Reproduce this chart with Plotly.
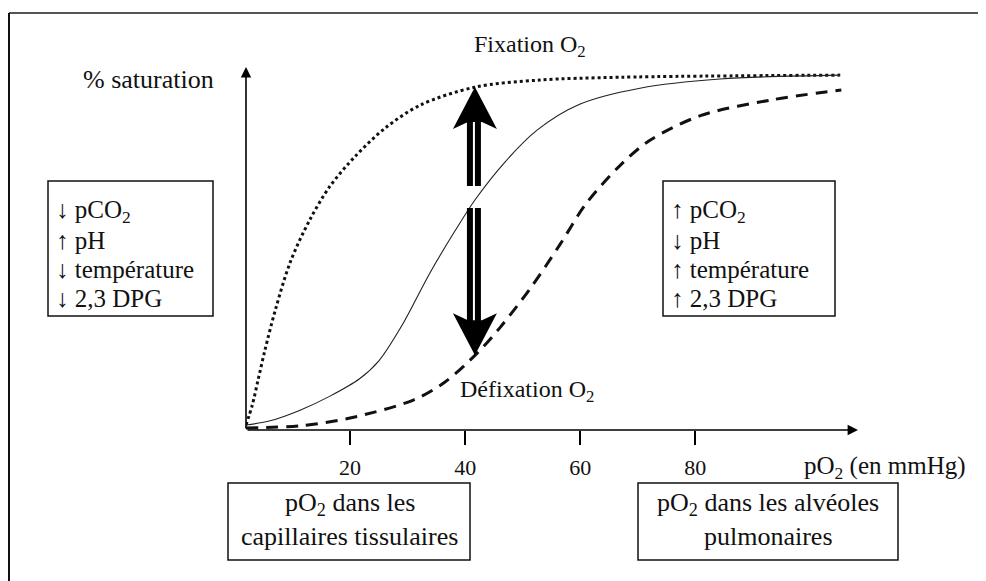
import numpy as np
import plotly.graph_objects as go

# ---------------- data ----------------
po2_left = [1.9, 3.0, 4.0, 5.2, 7.0, 9.6, 13.0, 16.5, 20.9, 26.1, 32.2, 41.7, 53.0, 67.0, 105.2]
sat_left = [0.8, 6.5, 13.6, 22.1, 33.4, 47.0, 59.0, 68.5, 77.0, 85.0, 91.5, 96.6, 98.6, 99.4, 100.0]

po2_mid = [1.9, 6.1, 11.3, 16.5, 21.7, 25.0, 29.0, 33.9, 38.3, 41.7, 47.0, 52.5, 60.0, 70.4, 84.3, 105.2]
sat_mid = [0.8, 2.0, 5.0, 9.0, 14.0, 19.0, 29.0, 44.0, 56.0, 64.6, 75.5, 84.4, 91.8, 96.3, 98.9, 100.0]

po2_right = [1.9, 11.3, 20.0, 31.0, 36.5, 42.1, 46.1, 51.3, 56.5, 61.0, 67.0, 72.2, 80.9, 93.0, 105.4]
sat_right = [0.0, 0.6, 2.8, 7.9, 13.0, 21.2, 28.5, 39.5, 52.0, 63.5, 74.5, 81.6, 88.5, 92.9, 95.8]

x_ticks = [20, 40, 60, 80]
x_tick_labels = ["20", "40", "60", "80"]
arrow_po2 = 41.7

left_lines = ["↓ pCO<sub>2</sub>", "↑ pH", "↓ température", "↓ 2,3 DPG"]
right_lines = ["↑ pCO<sub>2</sub>", "↓ pH", "↑ température", "↑ 2,3 DPG"]

# ---------------- geometry helpers (screen px -> figure) ----------------
OFF = 8                       # default body margin of the page
W, H = 986, 581
L, R, T, B = 246, 858, 67, 430   # plot area in screen px
XR = [1.9, 108.3]
YR = [-0.6, 102.3]


def xp(px):
    return (px - L) / (R - L)


def yp(py):
    return (B - py) / (B - T)


def d2px(x, y):
    px = L + (x - XR[0]) / (XR[1] - XR[0]) * (R - L)
    py = B - (y - YR[0]) / (YR[1] - YR[0]) * (B - T)
    return px, py


FONT = "Liberation Serif, Times New Roman, serif"

fig = go.Figure()
fig.add_trace(go.Scatter(x=po2_left, y=sat_left, mode="lines",
                         line=dict(color="#111", width=3, dash="dot", shape="spline", smoothing=0.9),
                         hoverinfo="skip"))
fig.add_trace(go.Scatter(x=po2_mid, y=sat_mid, mode="lines",
                         line=dict(color="#222", width=1.1, shape="spline", smoothing=0.9),
                         hoverinfo="skip"))
fig.add_trace(go.Scatter(x=po2_right, y=sat_right, mode="lines",
                         line=dict(color="#111", width=3, dash="12px,8px", shape="spline", smoothing=0.9),
                         hoverinfo="skip"))

shapes = []
annotations = []

# outer frame (top and left edges)
shapes.append(dict(type="line", xref="paper", yref="paper", x0=xp(9), x1=xp(990), y0=yp(13), y1=yp(13),
                   line=dict(color="#555", width=2)))
shapes.append(dict(type="line", xref="paper", yref="paper", x0=xp(9), x1=xp(9), y0=yp(13), y1=yp(590),
                   line=dict(color="#111", width=2)))

# axis arrows
annotations.append(dict(x=XR[1], y=YR[0], ax=XR[0], ay=YR[0], xref="x", yref="y", axref="x", ayref="y",
                        text="", showarrow=True, arrowhead=2, arrowsize=1.3, arrowwidth=1.6, arrowcolor="#000"))
annotations.append(dict(x=XR[0], y=YR[1], ax=XR[0], ay=YR[0], xref="x", yref="y", axref="x", ayref="y",
                        text="", showarrow=True, arrowhead=2, arrowsize=1.3, arrowwidth=1.6, arrowcolor="#000"))

# big double arrows
c, top_py = d2px(arrow_po2, float(np.interp(arrow_po2, po2_left, sat_left)))
_, bot_py = d2px(arrow_po2, float(np.interp(arrow_po2, po2_right, sat_right)))
_, mid_py = d2px(arrow_po2, float(np.interp(arrow_po2, po2_mid, sat_mid)))


def path(points):
    return "M " + " L ".join(f"{xp(a):.5f},{yp(b):.5f}" for a, b in points) + " Z"


shapes.append(dict(type="path", xref="paper", yref="paper", fillcolor="#000", line=dict(width=0),
                   path=path([(c, top_py), (c + 22, top_py + 42), (c + 7, top_py + 35),
                              (c - 7, top_py + 35), (c - 22, top_py + 42)])))
shapes.append(dict(type="path", xref="paper", yref="paper", fillcolor="#000", line=dict(width=0),
                   path=path([(c, bot_py), (c + 22, bot_py - 42), (c + 7, bot_py - 35),
                              (c - 7, bot_py - 35), (c - 22, bot_py - 42)])))
for y0, y1 in [(top_py + 34, mid_py - 14), (mid_py + 8, bot_py - 34)]:
    for xa, xb in [(c - 8, c - 2), (c, c + 6)]:
        shapes.append(dict(type="rect", xref="paper", yref="paper", x0=xp(xa), x1=xp(xb),
                           y0=yp(y0), y1=yp(y1), fillcolor="#000", line=dict(width=0)))

# boxes
for (x0, y0, x1, y1) in [(48, 181, 213, 316), (663, 181, 835, 316), (228, 483, 470, 560), (638, 483, 898, 560)]:
    shapes.append(dict(type="rect", xref="paper", yref="paper", x0=xp(x0), x1=xp(x1), y0=yp(y0), y1=yp(y1),
                       line=dict(color="#111", width=1.5), fillcolor="rgba(0,0,0,0)"))


def txt(s, px, py, size=26, xanchor="left"):
    annotations.append(dict(text=s, x=xp(px), y=yp(py), xref="paper", yref="paper", showarrow=False,
                            xanchor=xanchor, yanchor="middle",
                            font=dict(family=FONT, size=size, color="#111")))


for i, (a, b) in enumerate(zip(left_lines, right_lines)):
    txt(a, 54, 211 + i * 29.2, size=25)
    txt(b, 669, 211 + i * 29.2, size=25)

txt("Fixation O<sub>2</sub>", 530, 46, size=24, xanchor="center")
txt("Défixation O<sub>2</sub>", 458, 391, size=24, xanchor="left")
txt("% saturation", 216, 79, size=26, xanchor="right")
txt("pO<sub>2</sub> (en mmHg)", 968, 467, size=25, xanchor="right")
txt("pO<sub>2</sub> dans les", 350, 504, size=26, xanchor="center")
txt("capillaires tissulaires", 349, 536, size=26, xanchor="center")
txt("pO<sub>2</sub> dans les alvéoles", 768, 504, size=26, xanchor="center")
txt("pulmonaires", 768, 536, size=26, xanchor="center")

fig.update_layout(
    width=W, height=H,
    margin=dict(l=L - OFF, r=W - (R - OFF), t=T - OFF, b=H - (B - OFF)),
    paper_bgcolor="white", plot_bgcolor="white",
    showlegend=False,
    shapes=shapes, annotations=annotations,
    xaxis=dict(range=XR, showgrid=False, zeroline=False, showline=False,
               tickmode="array", tickvals=x_ticks, ticktext=x_tick_labels,
               ticks="outside", ticklen=14, tickwidth=1.5, tickcolor="#000",
               ticklabelstandoff=4,
               tickfont=dict(family=FONT, size=22, color="#111")),
    yaxis=dict(range=YR, showgrid=False, zeroline=False, showline=False,
               showticklabels=False, ticks=""),
)

fig.write_html("out.html")
